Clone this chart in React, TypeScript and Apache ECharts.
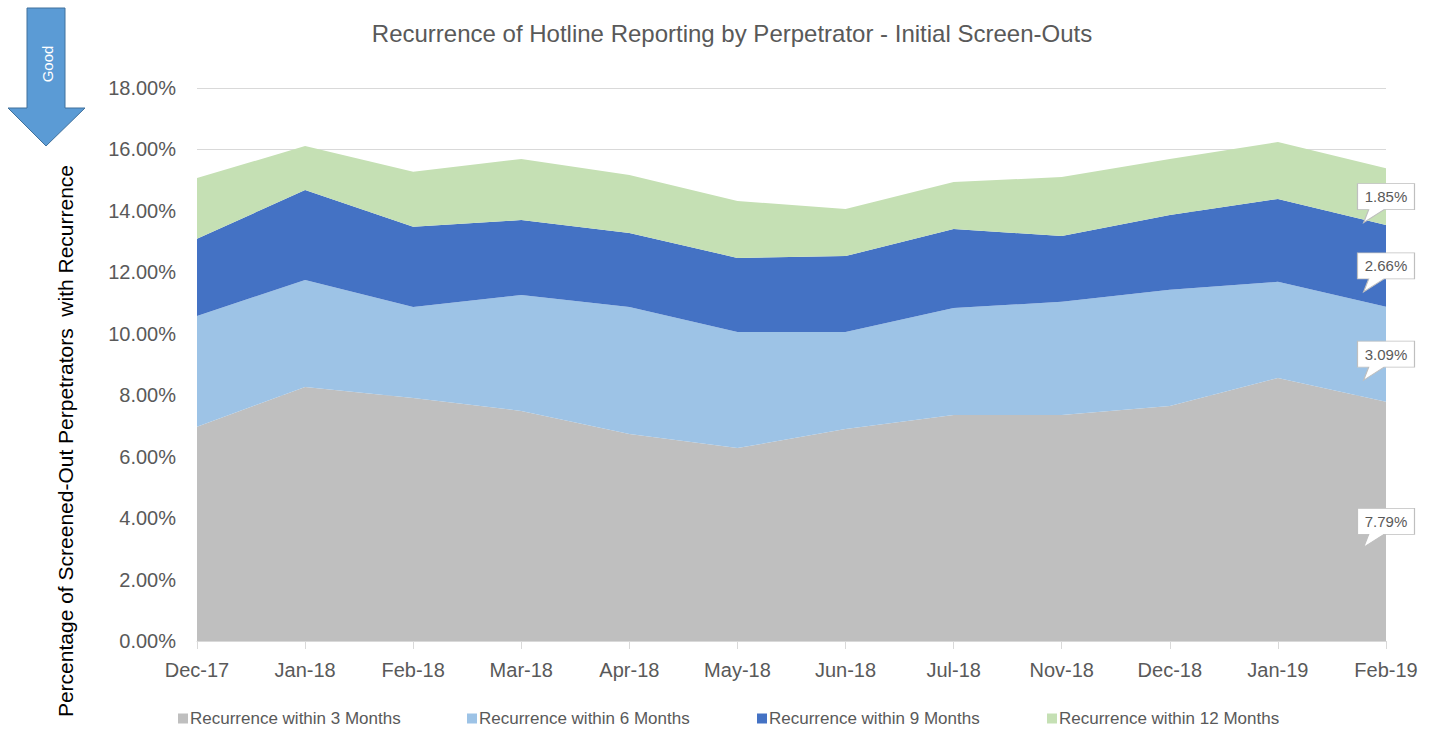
import React, { useEffect, useRef } from "react";
import * as echarts from "echarts";

const categories = ["Dec-17", "Jan-18", "Feb-18", "Mar-18", "Apr-18", "May-18", "Jun-18", "Jul-18", "Nov-18", "Dec-18", "Jan-19", "Feb-19"];
const within3 = [6.97, 8.27, 7.91, 7.49, 6.74, 6.28, 6.90, 7.36, 7.36, 7.65, 8.56, 7.79];
const within6 = [3.61, 3.48, 2.96, 3.77, 4.13, 3.78, 3.16, 3.48, 3.68, 3.78, 3.13, 3.09];
const within9 = [2.51, 2.93, 2.61, 2.44, 2.41, 2.41, 2.47, 2.57, 2.14, 2.44, 2.70, 2.66];
const within12 = [1.98, 1.43, 1.79, 1.99, 1.89, 1.85, 1.53, 1.53, 1.92, 1.82, 1.85, 1.85];
const yTicks = { min: 0, max: 18, interval: 2 };

const seriesNames = ["Recurrence within 3 Months", "Recurrence within 6 Months", "Recurrence within 9 Months", "Recurrence within 12 Months"];
const seriesData = [within3, within6, within9, within12];
const colors = ["#bfbfbf", "#9dc3e6", "#4472c4", "#c5e0b4"];
const legendLefts = [173, 462, 752, 1042];

const FONT = "Liberation Sans";
const TEXT = "#595959";

export default function App() {
  const ref = useRef<HTMLDivElement>(null);
  useEffect(() => {
    if (!ref.current) return;
    const chart = echarts.init(ref.current, null, { renderer: "svg" });
    const last = categories.length - 1;
    let base = 0;
    const calloutData = seriesData.map((arr) => {
      const v = arr[last];
      const mid = base + v / 2;
      base += v;
      return { value: [last, mid, v] };
    });
    const option: any = {
      animation: false,
      textStyle: { fontFamily: FONT },
      title: {
        text: "Recurrence of Hotline Reporting by Perpetrator - Initial Screen-Outs",
        left: 727,
        top: 16,
        textAlign: "center",
        textStyle: { fontFamily: FONT, fontSize: 24, fontWeight: "normal", color: TEXT },
      },
      legend: seriesNames.map((n, i) => ({
        data: [n],
        left: legendLefts[i],
        top: 705,
        itemWidth: 10,
        itemHeight: 10,
        icon: "rect",
        itemGap: 0,
        textStyle: { fontFamily: FONT, fontSize: 17, color: TEXT, padding: [0, 0, 0, -3] },
        selectedMode: false,
      })),
      grid: { left: 197, right: 54, top: 88, bottom: 88, containLabel: false },
      xAxis: {
        type: "category",
        data: categories,
        boundaryGap: false,
        axisLine: { lineStyle: { color: "#d9d9d9", width: 1 } },
        axisTick: { show: true, alignWithLabel: true, length: 8, lineStyle: { color: "#d9d9d9" } },
        axisLabel: { color: TEXT, fontSize: 20, fontFamily: FONT, margin: 19 },
        splitLine: { show: false },
      },
      yAxis: {
        type: "value",
        min: yTicks.min,
        max: yTicks.max,
        interval: yTicks.interval,
        axisLine: { show: false },
        axisTick: { show: false },
        axisLabel: { color: TEXT, fontSize: 20, fontFamily: FONT, margin: 21, formatter: (v: number) => v.toFixed(2) + "%" },
        splitLine: { lineStyle: { color: "#d9d9d9", width: 1 } },
      },
      graphic: [
        {
          type: "polygon",
          shape: { points: [[27, 8], [65, 8], [65, 108], [85, 108], [46, 146], [8, 108], [27, 108]] },
          style: { fill: "#5b9bd5", stroke: "#41719c", lineWidth: 1 },
        },
        {
          type: "text",
          x: 47,
          y: 64,
          rotation: Math.PI / 2,
          style: { text: "Good", fill: "#ffffff", fontSize: 15, fontFamily: FONT, align: "center", verticalAlign: "middle" },
        },
        {
          type: "text",
          x: 65,
          y: 441,
          rotation: Math.PI / 2,
          style: {
            text: "Percentage of Screened-Out Perpetrators  with Recurrence",
            fill: "#000000",
            fontSize: 21,
            fontFamily: FONT,
            align: "center",
            verticalAlign: "middle",
          },
        },
      ],
      series: [
        ...seriesNames.map((n, i) => ({
          name: n,
          type: "line",
          stack: "total",
          data: seriesData[i],
          symbol: "none",
          showSymbol: false,
          lineStyle: { width: 0, color: colors[i] },
          itemStyle: { color: colors[i] },
          areaStyle: { color: colors[i], opacity: 1 },
          emphasis: { disabled: true },
        })),
        {
          name: "callouts",
          type: "scatter",
          data: calloutData,
          symbol: "path://M0,0 L56,0 L56,26 L26,26 L6,39 L11,26 L0,26 Z",
          symbolSize: [57, 39],
          symbolOffset: [0, 6.5],
          z: 10,
          itemStyle: { color: "#ffffff", borderColor: "#bfbfbf", borderWidth: 1, opacity: 1 },
          label: {
            show: true,
            position: "inside",
            offset: [0, -6.5],
            color: TEXT,
            fontSize: 15,
            fontFamily: FONT,
            formatter: (p: any) => p.value[2].toFixed(2) + "%",
          },
          emphasis: { disabled: true },
          silent: true,
        },
      ],
    };
    chart.setOption(option);
    return () => chart.dispose();
  }, []);
  return <div ref={ref} style={{ position: "absolute", left: 0, top: 0, width: 1440, height: 729 }} />;
}
